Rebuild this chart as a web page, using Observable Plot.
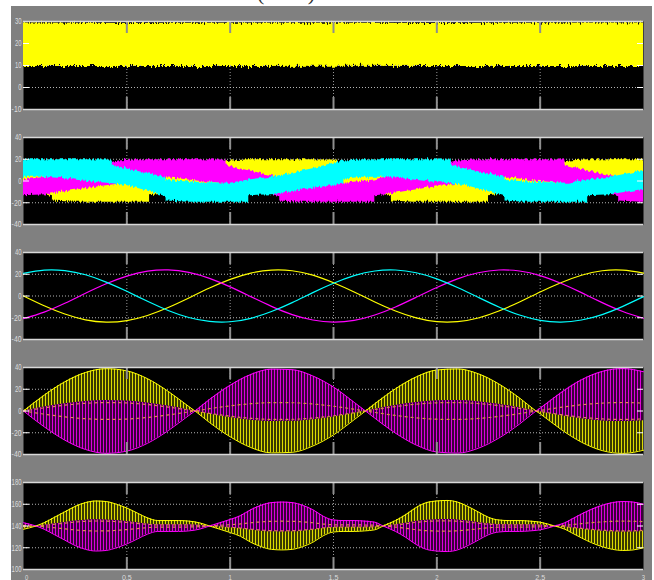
<!DOCTYPE html>
<html>
<head>
<meta charset="utf-8">
<script src="https://cdn.jsdelivr.net/npm/d3@7"></script>
<script src="https://cdn.jsdelivr.net/npm/@observablehq/plot@0.6"></script>
<style>
  html, body { margin: 0; padding: 0; background: #fff; }
  body { position: relative; width: 654px; height: 580px; overflow: hidden; }
  #scope { position: absolute; left: 11px; top: 6px; width: 641px; height: 600px; background: #808080; }
  #note { position: absolute; left: 257px; top: -18px; font: 22px/22px "Liberation Serif", "Times New Roman", serif; color: #333; white-space: nowrap; }
  svg.panel { position: absolute; left: 0; }
</style>
</head>
<body>
<div id="note">(cont.).</div>
<div id="scope"></div>

<svg width="0" height="0" style="position:absolute">
  <defs>
    <!-- ragged edges of the switching-ripple envelopes -->
    <filter id="rippleA" x="-2%" y="-20%" width="104%" height="140%" color-interpolation-filters="sRGB">
      <feTurbulence type="fractalNoise" baseFrequency="0.7 0.012" numOctaves="2" seed="7" result="n"/>
      <feColorMatrix in="n" type="matrix" values="0 0 0 0 0.5  0 1 0 0 0  0 0 0 0 0  0 0 0 0 1" result="m"/>
      <feDisplacementMap in="SourceGraphic" in2="m" scale="8" xChannelSelector="R" yChannelSelector="G"/>
    </filter>
    <filter id="rippleB" x="-2%" y="-20%" width="104%" height="140%" color-interpolation-filters="sRGB">
      <feTurbulence type="fractalNoise" baseFrequency="0.7 0.012" numOctaves="2" seed="3" result="n"/>
      <feColorMatrix in="n" type="matrix" values="0 0 0 0 0.5  0 1 0 0 0  0 0 0 0 0  0 0 0 0 1" result="m"/>
      <feDisplacementMap in="SourceGraphic" in2="m" scale="5" xChannelSelector="R" yChannelSelector="G"/>
    </filter>
    <!-- dense PWM pulses rendered as vertical hatching -->
    <pattern id="yStripe" width="3" height="8" patternUnits="userSpaceOnUse">
      <rect x="0" y="0" width="3" height="8" fill="#3a3a00"/>
      <rect x="0" y="0" width="1" height="8" fill="#dcdc00"/>
    </pattern>
    <pattern id="mStripe" x="1" width="3" height="8" patternUnits="userSpaceOnUse">
      <rect x="0" y="0" width="3" height="8" fill="#3a003a"/>
      <rect x="0" y="0" width="1" height="8" fill="#dc00dc"/>
    </pattern>
  </defs>
</svg>

<script>
// ---- time axis ----
const xTicks = [0, 0.5, 1, 1.5, 2, 2.5, 3];

// ---- panel 1: DC-link voltage band ----
const t1 = [0, 0.5, 1, 1.5, 2, 2.5, 3];
const upper1 = [29.3, 29.1, 29.2, 29.2, 29.1, 29.2, 29.3];
const lower1 = [9.5, 9.6, 9.5, 9.7, 9.6, 9.5, 9.6];
const yTicks1 = [-10, 0, 10, 20, 30];

// ---- panel 2: unfiltered phase voltages (band limits) ----
const tC2 = [0,0.1,0.2,0.3,0.43,0.43,0.5,0.6,0.69,0.69,0.8,0.9,1.0,1.09,1.09,1.2,1.3,1.4,1.5,1.55,1.55,1.64,1.74,1.84,1.94,2.07,2.07,2.14,2.24,2.33,2.33,2.44,2.54,2.64,2.73,2.73,2.84,2.94,3.0];
const hiC2 = [19.5,19.5,19.5,19.5,19.3,14.8,11.0,7.0,3.5,0.5,-1.0,-1.5,-2.0,1.0,1.0,3.5,7.2,11.2,16.4,18.5,18.5,19.5,19.5,19.5,19.5,19.3,14.8,11.0,7.0,3.5,0.5,-1.0,-1.5,-2.0,1.0,1.0,3.5,7.2,9.6];
const loC2 = [3.5,3.5,2.0,-0.2,-2.5,-2.5,-4.1,-9.3,-14.5,-18.5,-19.5,-19.5,-19.5,-19.5,-13.5,-12.7,-9.7,-6.6,-4.1,-3.0,1.5,3.5,3.5,2.0,-0.2,-2.5,-2.5,-4.1,-9.3,-14.5,-18.5,-19.5,-19.5,-19.5,-19.5,-13.5,-12.7,-9.7,-7.9];

const tM2 = [0,0.11,0.21,0.31,0.41,0.46,0.46,0.55,0.65,0.75,0.85,0.98,0.98,1.05,1.15,1.24,1.24,1.35,1.45,1.55,1.70,1.70,1.75,1.85,1.95,2.05,2.1,2.1,2.19,2.29,2.39,2.49,2.62,2.62,2.69,2.79,2.88,2.88,2.99,3.0];
const hiM2 = [1.0,3.5,7.2,11.2,16.4,18.5,18.5,19.5,19.5,19.5,19.5,19.3,14.8,11.0,7.0,3.5,0.5,-1.0,-1.5,-2.0,1.0,1.0,3.5,7.2,11.2,16.4,18.5,18.5,19.5,19.5,19.5,19.5,19.3,14.8,11.0,7.0,3.5,0.5,-1.0,-1.1];
const loM2 = [-13.5,-12.7,-9.7,-6.6,-4.1,-3.0,1.5,3.5,3.5,2.0,-0.2,-2.5,-2.5,-4.1,-9.3,-14.5,-18.5,-19.5,-19.5,-19.5,-19.5,-13.5,-12.7,-9.7,-6.6,-4.1,-3.0,1.5,3.5,3.5,2.0,-0.2,-2.5,-2.5,-4.1,-9.3,-14.5,-18.5,-19.5,-19.5];

const tY2 = [0,0.05,0.14,0.14,0.25,0.35,0.45,0.61,0.61,0.65,0.75,0.85,0.95,1.0,1.0,1.09,1.19,1.29,1.39,1.52,1.52,1.59,1.69,1.78,1.78,1.89,1.99,2.09,2.25,2.25,2.29,2.39,2.49,2.59,2.64,2.64,2.73,2.83,2.93,3.0];
const hiY2 = [9.2,7.0,3.5,0.5,-1.0,-1.5,-2.0,1.0,1.0,3.5,7.2,11.2,16.4,18.5,18.5,19.5,19.5,19.5,19.5,19.3,14.8,11.0,7.0,3.5,0.5,-1.0,-1.5,-2.0,1.0,1.0,3.5,7.2,11.2,16.4,18.5,18.5,19.5,19.5,19.5,19.5];
const loY2 = [-6.5,-9.3,-14.5,-18.5,-19.5,-19.5,-19.5,-19.5,-13.5,-12.7,-9.7,-6.6,-4.1,-3.0,1.5,3.5,3.5,2.0,-0.2,-2.5,-2.5,-4.1,-9.3,-14.5,-18.5,-19.5,-19.5,-19.5,-19.5,-13.5,-12.7,-9.7,-6.6,-4.1,-3.0,1.5,3.5,3.5,2.0,0.5];
const yTicks2 = [-40, -20, 0, 20, 40];

// ---- panel 3: filtered phase voltages ----
const t3 = [0,0.1,0.2,0.3,0.4,0.5,0.6,0.7,0.8,0.9,1.0,1.1,1.2,1.3,1.4,1.5,1.6,1.7,1.8,1.9,2.0,2.1,2.2,2.3,2.4,2.5,2.6,2.7,2.8,2.9,3.0];
const yellow3 = [0,-9.0,-16.6,-21.9,-24.0,-22.6,-17.9,-10.6,-1.8,7.3,15.3,21.1,23.8,23.2,19.2,12.2,3.7,-5.5,-13.8,-20.1,-23.6,-23.6,-20.2,-13.8,-5.5,3.7,12.2,19.1,23.2,23.8,21.1];
const magenta3 = [-20.8,-14.8,-6.7,2.5,11.2,18.3,22.8,24.0,21.7,16.2,8.4,-0.6,-9.5,-17.1,-22.1,-24.0,-22.4,-17.5,-10.1,-1.2,7.8,15.8,21.4,23.9,23.0,18.8,11.7,3.1,-6.1,-14.3,-20.5];
const cyan3 = [20.8,23.8,23.3,19.5,12.8,4.3,-4.9,-13.3,-19.8,-23.4,-23.7,-20.5,-14.3,-6.1,3.1,11.7,18.7,23.0,23.9,21.4,15.8,7.8,-1.2,-10.1,-17.5,-22.4,-24.0,-22.1,-17.1,-9.5,-0.6];
const yTicks3 = [-40, -20, 0, 20, 40];

// ---- panel 4: pulse envelope (positive = yellow on top) ----
const t4 = [0,0.1,0.2,0.3,0.4,0.5,0.6,0.7,0.8,0.83,0.9,1.0,1.1,1.2,1.3,1.4,1.5,1.6,1.655,1.7,1.8,1.9,2.0,2.1,2.2,2.3,2.4,2.48,2.5,2.6,2.7,2.8,2.9,3.0];
const amp4 = [0,14.5,26.8,35.4,38.9,36.9,29.7,18.1,4.1,0,-10.6,-23.7,-33.6,-38.5,-38.0,-32.2,-22.0,-8.0,0,6.6,20.4,31.3,37.7,38.7,34.3,24.9,12.0,0,-2.6,-16.8,-28.7,-36.4,-39.0,-36.1];
const yTicks4 = [-40, -20, 0, 20, 40];

// ---- panel 5: pulse envelope around the 140 level ----
const level5 = 140;
const t5 = [0,0.06,0.1,0.15,0.2,0.25,0.3,0.35,0.4,0.45,0.5,0.55,0.6,0.65,0.7,0.75,0.8,0.85,0.9,0.95,1.0,1.05,1.1,1.15,1.2,1.25,1.3,1.35,1.4,1.45,1.5,1.55,1.6,1.65,1.7,1.74,1.8,1.85,1.9,1.95,2.0,2.05,2.1,2.15,2.2,2.25,2.3,2.35,2.4,2.45,2.5,2.57,2.62,2.65,2.7,2.75,2.8,2.85,2.9,2.95,3.0];
const amp5 = [-3,0,3,8,13,18,21.5,23,22.5,20,16.5,12,7.5,5,5,5,4.5,3,0,-3,-6,-9.5,-15,-19,-21.5,-22,-21.5,-19,-15,-9,-5.5,-5,-5,-4.5,-3.5,0,5,10.5,17,21.5,23,23.5,22,18,13,8,5.5,5,5,4.5,3.5,0,-3,-6,-11,-15.5,-19,-21.5,-22.5,-22,-20];
const yTicks5 = [100, 120, 140, 160, 180];

// ---- layout ----
const W = 654, ML = 23, MR = 11, FW = W - ML - MR;
const YEL = "#ffff00", MAG = "#ff00ff", CYA = "#00ffff", DASH = "#d98a4a";

// squeeze tick labels into the narrow scope lettering
function condense(svg, selector) {
  svg.querySelectorAll(selector).forEach(t => {
    const n = t.textContent.length;
    t.setAttribute("textLength", (n * 3.3).toFixed(1));
    t.setAttribute("lengthAdjust", "spacingAndGlyphs");
  });
}

function panel({top, height, domain, ticks, marks, last = false, ripple = null}) {
  const mt = 3, mb = last ? 11 : 3;
  const inner = ticks.slice(1, -1);
  const xInner = xTicks.slice(1, -1);
  const all = [
    Plot.frame({fill: "black"}),
    Plot.gridY(inner, {stroke: "#d4d4d4", strokeOpacity: 0.85, strokeDasharray: "1,2"}),
    Plot.gridX(xInner, {stroke: "#bdbdbd", strokeOpacity: 0.8, strokeDasharray: "1,2"}),
    ...marks,
    Plot.tickX(xInner, {x: d => d, stroke: "#8e8e8e", strokeWidth: 2, insetBottom: height - 12}),
    Plot.tickX(xInner, {x: d => d, stroke: "#8e8e8e", strokeWidth: 2, insetTop: height - 12}),
    Plot.tickY(inner, {y: d => d, stroke: "#ffffff", insetRight: FW - 6}),
    Plot.tickY(inner, {y: d => d, stroke: "#ffffff", insetLeft: FW - 6}),
    Plot.ruleY([domain[0], domain[1]], {stroke: "#d8d8d8", strokeWidth: 1.5}),
    Plot.axisY(ticks, {tickSize: 0, tickPadding: 2, tickFormat: d => String(d), label: null})
  ];
  if (last) all.push(Plot.axisX(xTicks, {tickSize: 0, tickPadding: 5, fontSize: 7.5, tickFormat: d => String(d), label: null}));
  const chart = Plot.plot({
    width: W, height: height + mt + mb,
    marginLeft: ML, marginRight: MR, marginTop: mt, marginBottom: mb,
    x: {domain: [0, 3], axis: null},
    y: {domain, axis: null},
    style: {background: "none", color: "#dcdcdc", overflow: "visible",
            fontSize: "9px", fontFamily: "'Liberation Sans', Arial, sans-serif"},
    marks: all
  });
  chart.classList.add("panel");
  chart.style.top = (top - mt) + "px";
  condense(chart, 'g[aria-label="y-axis tick label"] text, g[aria-label="x-axis tick label"] text');
  // the time-origin label sits just right of the trace area's left edge
  const first = chart.querySelector('g[aria-label="x-axis tick label"] text');
  if (first) { first.setAttribute("text-anchor", "start"); first.setAttribute("dx", "1.5"); }
  if (ripple) chart.querySelectorAll('g[aria-label="area"]').forEach(g => g.setAttribute("filter", `url(#${ripple})`));
  document.body.append(chart);
}

// panel 1
panel({top: 21, height: 88, domain: [-10, 30], ticks: yTicks1, ripple: "rippleA", marks: [
  Plot.areaY(t1, {x: t1, y1: lower1, y2: upper1, fill: YEL})
]});

// panel 2
panel({top: 137, height: 87, domain: [-40, 40], ticks: yTicks2, ripple: "rippleB", marks: [
  Plot.areaY(tY2, {x: tY2, y1: loY2, y2: hiY2, fill: YEL}),
  Plot.areaY(tM2, {x: tM2, y1: loM2, y2: hiM2, fill: MAG}),
  Plot.areaY(tC2, {x: tC2, y1: loC2, y2: hiC2, fill: CYA})
]});

// panel 3
panel({top: 252, height: 87, domain: [-40, 40], ticks: yTicks3, marks: [
  Plot.line(t3, {x: t3, y: yellow3, stroke: YEL, strokeWidth: 1.2, curve: "natural"}),
  Plot.line(t3, {x: t3, y: magenta3, stroke: MAG, strokeWidth: 1.2, curve: "natural"}),
  Plot.line(t3, {x: t3, y: cyan3, stroke: CYA, strokeWidth: 1.2, curve: "natural"})
]});

// panel 4
const curve = "monotone-x";
panel({top: 367, height: 87, domain: [-40, 40], ticks: yTicks4, marks: [
  Plot.areaY(t4, {x: t4, y1: amp4, y2: amp4.map(a => -0.25 * a), fill: "url(#yStripe)", curve}),
  Plot.areaY(t4, {x: t4, y1: amp4.map(a => -a), y2: amp4.map(a => 0.25 * a), fill: "url(#mStripe)", curve}),
  Plot.line(t4, {x: t4, y: amp4.map(a => 0.2 * a), stroke: DASH, strokeWidth: 1.2, strokeDasharray: "2,4", curve}),
  Plot.line(t4, {x: t4, y: amp4.map(a => -0.2 * a), stroke: DASH, strokeWidth: 1.2, strokeDasharray: "2,4", curve}),
  Plot.line(t4, {x: t4, y: amp4, stroke: YEL, strokeWidth: 1, curve}),
  Plot.line(t4, {x: t4, y: amp4.map(a => -a), stroke: MAG, strokeWidth: 1, curve})
]});

// panel 5
panel({top: 482, height: 87, domain: [100, 180], ticks: yTicks5, last: true, marks: [
  Plot.areaY(t5, {x: t5, y1: amp5.map(b => level5 + b), y2: amp5.map(b => level5 - 0.25 * b), fill: "url(#yStripe)", curve}),
  Plot.areaY(t5, {x: t5, y1: amp5.map(b => level5 - b), y2: amp5.map(b => level5 + 0.25 * b), fill: "url(#mStripe)", curve}),
  Plot.line(t5, {x: t5, y: amp5.map(b => level5 + 0.2 * b), stroke: DASH, strokeWidth: 1.2, strokeDasharray: "2,4", curve}),
  Plot.line(t5, {x: t5, y: amp5.map(b => level5 - 0.2 * b), stroke: DASH, strokeWidth: 1.2, strokeDasharray: "2,4", curve}),
  Plot.line(t5, {x: t5, y: amp5.map(b => level5 + b), stroke: YEL, strokeWidth: 1, curve}),
  Plot.line(t5, {x: t5, y: amp5.map(b => level5 - b), stroke: MAG, strokeWidth: 1, curve})
]});
</script>
</body>
</html>
